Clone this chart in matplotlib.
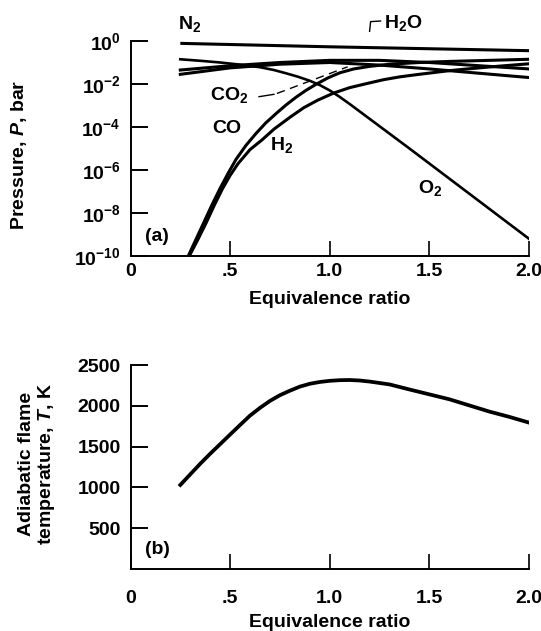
import matplotlib
matplotlib.use("Agg")
import matplotlib.pyplot as plt
import numpy as np

plt.rcParams['font.family'] = ['Liberation Sans', 'DejaVu Sans']
plt.rcParams['font.weight'] = 'bold'
plt.rcParams['mathtext.fontset'] = 'custom'
plt.rcParams['mathtext.rm'] = 'Liberation Sans:bold'
plt.rcParams['mathtext.it'] = 'Liberation Sans:italic:bold'
plt.rcParams['mathtext.bf'] = 'Liberation Sans:bold'

# ---------------- data (a): partial pressures, log10(P / bar) ----------------
phi_N2 = [0.25, 1.0, 2.0]
logP_N2 = [-0.11, -0.27, -0.45]

phi_O2 = [0.25, 0.35, 0.45, 0.55, 0.65, 0.72, 0.78, 0.84, 0.9, 0.95, 1.0, 1.05, 1.1,
          1.2, 1.4, 1.6, 1.8, 2.0]
logP_O2 = [-0.85, -0.92, -1.0, -1.1, -1.22, -1.35, -1.5, -1.66, -1.85, -2.05, -2.3, -2.6, -2.93,
           -3.62, -5.0, -6.4, -7.8, -9.2]

phi_CO = [0.29, 0.33, 0.37, 0.41, 0.45, 0.49, 0.53, 0.58, 0.63, 0.68, 0.73, 0.78, 0.83, 0.88,
          0.93, 0.99, 1.05, 1.12, 1.2, 1.3, 1.45, 1.6, 1.8, 2.0]
logP_CO = [-10, -9.2, -8.4, -7.6, -6.85, -6.15, -5.5, -4.85, -4.3, -3.8, -3.38, -2.98, -2.62, -2.3,
           -2.02, -1.72, -1.48, -1.3, -1.18, -1.08, -1.0, -0.95, -0.9, -0.85]

phi_H2 = [0.295, 0.34, 0.38, 0.42, 0.46, 0.5, 0.54, 0.6, 0.66, 0.72, 0.8, 0.87, 0.94, 1.02,
          1.1, 1.19, 1.27, 1.35, 1.44, 1.52, 1.6, 1.69, 1.85, 2.0]
logP_H2 = [-10, -9.2, -8.45, -7.65, -6.9, -6.25, -5.7, -5.05, -4.6, -4.1, -3.55, -3.1, -2.75, -2.42,
           -2.17, -1.97, -1.8, -1.67, -1.56, -1.47, -1.38, -1.3, -1.17, -1.06]

phi_H2O = [0.25, 0.5, 0.75, 1.0, 1.25, 1.5, 1.75, 2.0]
logP_H2O = [-1.35, -1.15, -1.0, -0.9, -0.9, -1.0, -1.15, -1.3]

phi_CO2 = [0.25, 0.5, 0.75, 1.0, 1.25, 1.5, 1.75, 2.0]
logP_CO2 = [-1.55, -1.25, -1.08, -1.0, -1.12, -1.3, -1.5, -1.7]

# ---------------- data (b): adiabatic flame temperature ----------------
phi_T = [0.25, 0.3, 0.35, 0.4, 0.45, 0.5, 0.55, 0.6, 0.65, 0.7, 0.75, 0.8, 0.85, 0.9, 0.95,
         1.0, 1.05, 1.1, 1.15, 1.2, 1.3, 1.4, 1.5, 1.6, 1.7, 1.8, 1.9, 2.0]
T_ad = [1030, 1160, 1290, 1413, 1530, 1648, 1765, 1880, 1975, 2060, 2130, 2185, 2235, 2270, 2292,
        2306, 2314, 2316, 2310, 2297, 2262, 2200, 2140, 2080, 2005, 1930, 1865, 1794]

x_ticks = [0, 0.5, 1.0, 1.5, 2.0]
x_ticklabels = ['0', '.5', '1.0', '1.5', '2.0']
p_ticks = [1e-10, 1e-8, 1e-6, 1e-4, 1e-2, 1e0]
p_ticklabels = [r'$10^{-10}$', r'$10^{-8}$', r'$10^{-6}$', r'$10^{-4}$', r'$10^{-2}$', r'$10^{0}$']
t_ticks = [500, 1000, 1500, 2000, 2500]

def P(v):
    return 10.0 ** np.asarray(v, dtype=float)

W, H = 541, 631
fig = plt.figure(figsize=(W / 100, H / 100), dpi=100)
ax1 = fig.add_axes([130.5 / W, (H - 256) / H, 398.5 / W, 215 / H])
ax2 = fig.add_axes([130.5 / W, (H - 569) / H, 398.5 / W, 204 / H])

FS = 14
lw = 2.2
for ax in (ax1, ax2):
    ax.spines['top'].set_visible(False)
    ax.spines['right'].set_visible(False)
    ax.spines['left'].set_linewidth(1.4)
    ax.spines['bottom'].set_linewidth(1.4)
    ax.set_xlim(0, 2.0)
    ax.set_xticks(x_ticks)
    ax.set_xticklabels(x_ticklabels, fontsize=FS, fontweight='bold')
    ax.tick_params(axis='x', direction='in', length=11, width=1.2)
    ax.tick_params(axis='y', direction='in', length=12, width=1.4, pad=7)

# ---- panel (a)
ax1.set_yscale('log')
ax1.set_ylim(1e-10, 1.0)
ax1.plot(phi_N2, P(logP_N2), color='black', lw=lw, solid_capstyle='butt')
ax1.plot(phi_O2, P(logP_O2), color='black', lw=1.9)
ax1.plot(phi_CO, P(logP_CO), color='black', lw=lw)
ax1.plot(phi_H2, P(logP_H2), color='black', lw=lw)
ax1.plot(phi_H2O, P(logP_H2O), color='black', lw=lw)
ax1.plot(phi_CO2, P(logP_CO2), color='black', lw=lw)
ax1.set_yticks(p_ticks)
ax1.set_yticklabels(p_ticklabels, fontsize=FS)
ax1.yaxis.set_minor_locator(matplotlib.ticker.NullLocator())
ax1.tick_params(axis='x', pad=5)
ax1.set_ylabel(r'Pressure, $\mathit{P}$, bar', fontsize=FS, fontweight='bold')
ax1.yaxis.set_label_coords(-0.255, 0.47)
ax1.set_xlabel('Equivalence ratio', fontsize=FS, fontweight='bold')
ax1.xaxis.set_label_coords(0.5, -0.165)

ax1.text(0.073, 10 ** -9.1, '(a)', fontsize=FS, fontweight='bold', va='center', ha='left')
ax1.text(0.24, 10 ** 0.79, r'N$_2$', fontsize=FS, fontweight='bold', va='center', ha='left', clip_on=False)
ax1.text(1.27, 10 ** 0.84, r'H$_2$O', fontsize=FS, fontweight='bold', va='center', ha='left', clip_on=False)
ax1.plot([1.2, 1.205, 1.255], P([0.45, 0.9, 0.93]), color='black', lw=1.0, clip_on=False)
ax1.text(0.40, 10 ** -2.5, r'CO$_2$', fontsize=FS, fontweight='bold', va='center', ha='left')
ax1.plot([0.645, 0.72], P([-2.59, -2.48]), color='black', lw=1.0)
ax1.plot([0.735, 1.09], P([-2.44, -1.2]), color='black', lw=1.0, dashes=(6, 4))
ax1.text(0.41, 10 ** -4.09, 'CO', fontsize=FS, fontweight='bold', va='center', ha='left')
ax1.text(0.70, 10 ** -4.84, r'H$_2$', fontsize=FS, fontweight='bold', va='center', ha='left')
ax1.text(1.445, 10 ** -6.85, r'O$_2$', fontsize=FS, fontweight='bold', va='center', ha='left')

# ---- panel (b)
ax2.set_ylim(0, 2500)
ax2.plot(phi_T, T_ad, color='black', lw=2.7)
ax2.set_yticks(t_ticks)
ax2.set_yticklabels([str(t) for t in t_ticks], fontsize=FS, fontweight='bold')
ax2.tick_params(axis='x', pad=15)
ax2.set_ylabel('Adiabatic flame\ntemperature, $\\mathit{T}$, K', fontsize=FS, fontweight='bold',
               linespacing=1.05)
ax2.yaxis.set_label_coords(-0.185, 0.515)
ax2.set_xlabel('Equivalence ratio', fontsize=FS, fontweight='bold')
ax2.xaxis.set_label_coords(0.5, -0.222)
ax2.text(0.075, 233, '(b)', fontsize=FS, fontweight='bold', va='center', ha='left')

fig.savefig('out.png', dpi=100)
